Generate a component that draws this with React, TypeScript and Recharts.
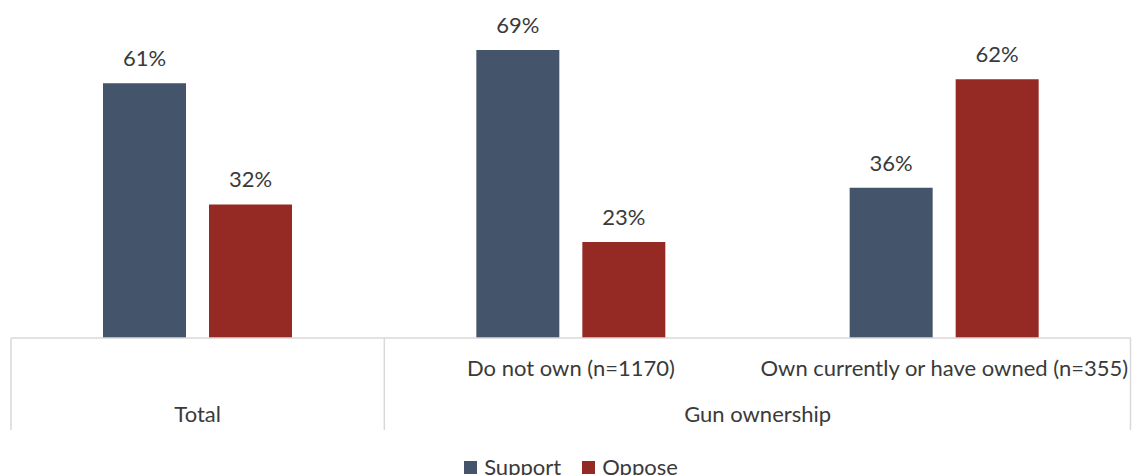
import React from "react";
import { BarChart, Bar, XAxis, YAxis, LabelList, Legend } from "recharts";

const categories = ["Total", "Do not own (n=1170)", "Own currently or have owned (n=355)"];
const subLabels = ["", "Do not own (n=1170)", "Own currently or have owned (n=355)"];
const groups = ["Total", "Gun ownership", "Gun ownership"];
const seriesNames = ["Support", "Oppose"];
const support = [61, 69, 36];
const oppose = [32, 23, 62];

const data = categories.map((c, i) => ({ name: c, Support: support[i], Oppose: oppose[i] }));

const CHART_W = 1132;
const CHART_H = 475;
const MARGIN = { top: 4, right: 1, bottom: 0, left: 11 };
const LEGEND_H = 16;
const XAXIS_H = 121;
const AXIS_TOP = CHART_H - MARGIN.bottom - LEGEND_H - XAXIS_H;
const BAND = (CHART_W - MARGIN.left - MARGIN.right) / categories.length;
const FONT = "Lato, 'Open Sans', sans-serif";
const FS = 22;
const TEXT_COLOR = "#3a3a3a";
const LINE_COLOR = "#d9d9d9";
const COLORS: Record<string, string> = { Support: "#44546A", Oppose: "#952923" };

const MultiTick = (props: any) => {
  const { x, payload } = props;
  const i = payload.index;
  const g = groups[i];
  const isFirst = i === 0 || groups[i - 1] !== g;
  let count = 0;
  for (let k = i; k < groups.length && groups[k] === g; k++) count++;
  const groupCenter = x + ((count - 1) * BAND) / 2;
  return (
    <g>
      {subLabels[i] && (
        <text x={x} y={AXIS_TOP + 38} textAnchor="middle" fill={TEXT_COLOR} fontSize={FS} fontFamily={FONT}>
          {subLabels[i]}
        </text>
      )}
      {isFirst && (
        <>
          <line x1={x - BAND / 2} x2={x - BAND / 2} y1={AXIS_TOP} y2={AXIS_TOP + 92} stroke={LINE_COLOR} strokeWidth={1.5} />
          <text x={groupCenter} y={AXIS_TOP + 84} textAnchor="middle" fill={TEXT_COLOR} fontSize={FS} fontFamily={FONT}>
            {g}
          </text>
        </>
      )}
      {i === groups.length - 1 && (
        <line x1={x + BAND / 2 - 0.5} x2={x + BAND / 2 - 0.5} y1={AXIS_TOP} y2={AXIS_TOP + 92} stroke={LINE_COLOR} strokeWidth={1.5} />
      )}
    </g>
  );
};

const LegendContent = (props: any) => {
  const payload = [...(props.payload || [])].sort(
    (a: any, b: any) => seriesNames.indexOf(a.value) - seriesNames.indexOf(b.value)
  );
  return (
    <div style={{ height: LEGEND_H, display: "flex", justifyContent: "center", alignItems: "center", overflow: "visible", fontFamily: FONT }}>
      {payload.map((p: any, idx: number) => (
        <div key={idx} style={{ display: "flex", alignItems: "center", marginRight: idx === 0 ? 21 : 0 }}>
          <div style={{ width: 13, height: 13, background: p.color, marginRight: 7 }} />
          <span style={{ fontSize: FS, color: TEXT_COLOR, lineHeight: "16px" }}>{p.value}</span>
        </div>
      ))}
    </div>
  );
};

export default function App() {
  return (
    <div style={{ position: "absolute", left: 0, top: 0, width: CHART_W, height: CHART_H, overflow: "hidden", background: "#fff" }}>
      <BarChart width={CHART_W} height={CHART_H} data={data} margin={MARGIN} barSize={83} barGap={23}>
        <XAxis
          dataKey="name"
          height={XAXIS_H}
          interval={0}
          tickLine={false}
          tickSize={0}
          axisLine={{ stroke: LINE_COLOR, strokeWidth: 1.5 }}
          tick={<MultiTick />}
        />
        <YAxis hide domain={[0, 80]} />
        <Legend verticalAlign="bottom" height={LEGEND_H} content={<LegendContent />} />
        {seriesNames.map((s) => (
          <Bar key={s} dataKey={s} fill={COLORS[s]} isAnimationActive={false}>
            <LabelList dataKey={s} position="top" offset={17} formatter={(v: any) => `${v}%`} fill={TEXT_COLOR} fontSize={FS} fontFamily={FONT} />
          </Bar>
        ))}
      </BarChart>
    </div>
  );
}
